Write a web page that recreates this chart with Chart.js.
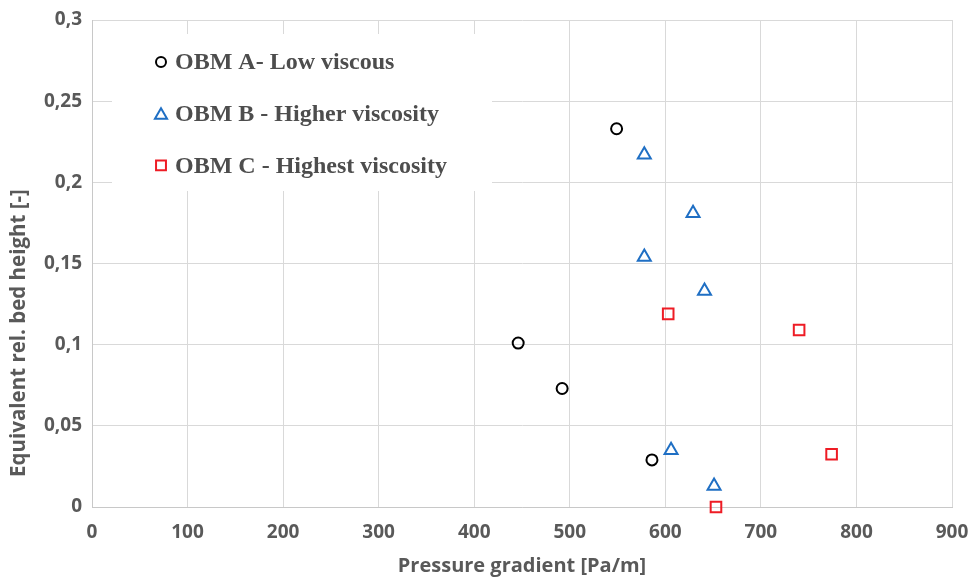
<!DOCTYPE html>
<html>
<head>
<meta charset="utf-8">
<title>Equivalent rel. bed height vs pressure gradient</title>
<script src="https://cdn.jsdelivr.net/npm/chart.js@4/dist/chart.umd.min.js"></script>
<style>
  html, body { margin: 0; padding: 0; background: #fff; }
  #wrap { width: 971px; height: 577px; }
</style>
</head>
<body>
<div id="wrap"><canvas id="bed-chart" width="971" height="577"></canvas></div>
<script>
// --- DATA ---
const seriesNames = ['OBM A- Low viscous', 'OBM B - Higher viscosity', 'OBM C - Highest viscosity'];

// OBM A
const obmAx = [549, 446, 492, 586];
const obmAy = [0.233, 0.101, 0.073, 0.029];
// OBM B
const obmBx = [578, 629, 578, 641, 606, 651];
const obmBy = [0.217, 0.181, 0.154, 0.133, 0.035, 0.013];
// OBM C
const obmCx = [603, 740, 774, 653];
const obmCy = [0.119, 0.109, 0.0325, 0.0];

const xTickLabels = ['0', '100', '200', '300', '400', '500', '600', '700', '800', '900'];
const yTickLabels = ['0', '0,05', '0,1', '0,15', '0,2', '0,25', '0,3'];

const xTitle = 'Pressure gradient [Pa/m]';
const yTitle = 'Equivalent rel. bed height [-]';

// --- STYLE ---
const GRID = '#d9d9d9';
const AXIS_TEXT = '#595959';
const SANS = '"Open Sans", "DejaVu Sans", sans-serif';

function toPoints(xs, ys) {
    return xs.map((x, i) => ({ x: x, y: ys[i] }));
}

// Legend drawn as a white box inside the plot, like the spreadsheet original
const boxLegend = {
    id: 'boxLegend',
    afterDatasetsDraw(chart) {
        const ctx = chart.ctx;
        const area = chart.chartArea;
        const left = area.left + 20;
        const top = area.top + 14;
        ctx.save();
        ctx.fillStyle = '#ffffff';
        ctx.fillRect(left, top, 380, 157);
        ctx.font = 'bold 24px "Liberation Serif", "Times New Roman", serif';
        ctx.textBaseline = 'middle';
        ctx.textAlign = 'left';
        chart.data.datasets.forEach((ds, i) => {
            const y = top + 28 + i * 51.7;
            const x = left + 49;
            ctx.fillStyle = '#ffffff';
            ctx.strokeStyle = ds.borderColor;
            ctx.lineWidth = 2;
            Chart.helpers.drawPoint(ctx, {
                pointStyle: ds.pointStyle,
                radius: ds.pointStyle === 'circle' ? 5 : 7,
                borderWidth: 2,
                rotation: 0
            }, x, ds.pointStyle === 'triangle' ? y + 1.5 : y);
            ctx.fillStyle = '#4d4d4d';
            ctx.fillText(ds.label, left + 63, y + 1);
        });
        ctx.restore();
    }
};

// Axis titles placed by hand
const axisTitles = {
    id: 'axisTitles',
    afterDraw(chart) {
        const ctx = chart.ctx;
        const area = chart.chartArea;
        ctx.save();
        ctx.fillStyle = AXIS_TEXT;
        ctx.font = 'bold 20px ' + SANS;
        ctx.textAlign = 'center';
        ctx.textBaseline = 'middle';
        ctx.fillText(xTitle, (area.left + area.right) / 2, 566);
        ctx.font = 'bold 20.5px ' + SANS;
        ctx.translate(19, 333);
        ctx.rotate(-Math.PI / 2);
        ctx.fillText(yTitle, 0, 0);
        ctx.restore();
    }
};

const bedChart = new Chart(document.getElementById('bed-chart'), {
    type: 'scatter',
    data: {
        datasets: [
            {
                label: seriesNames[0],
                data: toPoints(obmAx, obmAy),
                pointStyle: 'circle',
                pointRadius: 5.5,
                borderColor: '#000000',
                backgroundColor: 'rgba(0,0,0,0)',
                borderWidth: 2,
                clip: false
            },
            {
                label: seriesNames[1],
                data: toPoints(obmBx, obmBy),
                pointStyle: 'triangle',
                pointRadius: 7.5,
                borderColor: '#1f6fc4',
                backgroundColor: 'rgba(0,0,0,0)',
                borderWidth: 2,
                clip: false
            },
            {
                label: seriesNames[2],
                data: toPoints(obmCx, obmCy),
                pointStyle: 'rect',
                pointRadius: 7.5,
                borderColor: '#ee1c25',
                backgroundColor: 'rgba(0,0,0,0)',
                borderWidth: 2,
                clip: false
            }
        ]
    },
    options: {
        responsive: false,
        animation: false,
        layout: { padding: { top: 20, right: 19, left: 0, bottom: 0 } },
        plugins: {
            legend: { display: false },
            tooltip: { enabled: false }
        },
        scales: {
            x: {
                type: 'linear',
                min: 0,
                max: 900,
                afterFit(scale) {
                    scale.height = 70;
                    scale.paddingRight = 0;
                    scale.paddingLeft = 0;
                },
                afterBuildTicks(scale) {
                    scale.ticks = xTickLabels.map(v => ({ value: Number(v) }));
                },
                ticks: {
                    padding: 14,
                    color: AXIS_TEXT,
                    font: { family: SANS, size: 19, weight: 'bold' },
                    callback: (v, i) => xTickLabels[i]
                },
                grid: { color: GRID, lineWidth: 1, drawTicks: false },
                border: { color: '#c8c8c8', width: 1 }
            },
            y: {
                type: 'linear',
                min: 0,
                max: 0.3,
                afterFit(scale) {
                    scale.width = 92;
                    scale.paddingTop = 0;
                    scale.paddingBottom = 0;
                },
                afterBuildTicks(scale) {
                    scale.ticks = yTickLabels.map(v => ({ value: parseFloat(v.replace(',', '.')) }));
                },
                ticks: {
                    padding: 10,
                    color: AXIS_TEXT,
                    font: { family: SANS, size: 19, weight: 'bold' },
                    callback: (v, i) => yTickLabels[i]
                },
                grid: { color: GRID, lineWidth: 1, drawTicks: false },
                border: { color: '#c8c8c8', width: 1 }
            }
        }
    },
    plugins: [boxLegend, axisTitles]
});
</script>
</body>
</html>
